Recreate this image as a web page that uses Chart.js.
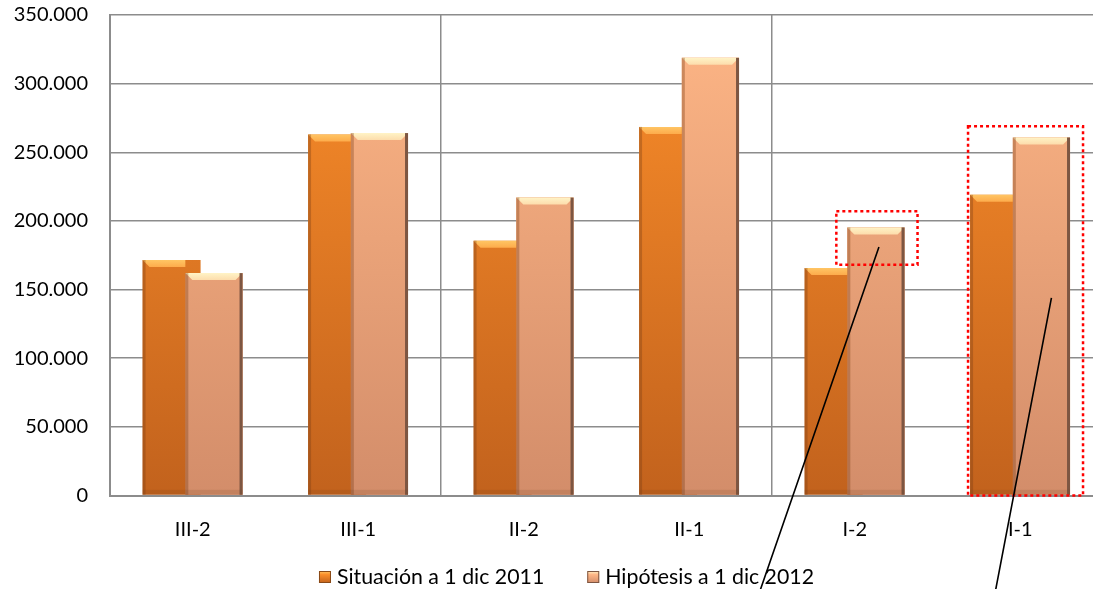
<!DOCTYPE html>
<html>
<head>
<meta charset="utf-8">
<script src="https://cdn.jsdelivr.net/npm/chart.js@4.4.1/dist/chart.umd.min.js"></script>
<style>
  html, body { margin: 0; padding: 0; background: #fff; overflow: hidden; }
  #wrap { width: 1110px; height: 589px; }
</style>
</head>
<body>
<div id="wrap"><canvas id="chart" width="1110" height="589"></canvas></div>
<script>
// --- DATOS ---
const categorias = ['III-2', 'III-1', 'II-2', 'II-1', 'I-2', 'I-1'];
const situacion2011 = [171500, 263000, 185600, 268500, 165700, 219000];
const hipotesis2012 = [162000, 264000, 217000, 318800, 195300, 260800];
const nombresSeries = ['Situación a 1 dic 2011', 'Hipótesis a 1 dic 2012'];
const yTicks = [0, 50000, 100000, 150000, 200000, 250000, 300000, 350000];

const FONT = 'Lato';
const PLOT_BOTTOM = 495.5;

// --- COLORES ---
const tonos = [
  { top: '#fb8e2a', bottom: '#c2621d', edge: '#8a4a18', light: '#ffc564' },
  { top: '#feb686', bottom: '#d38d6a', edge: '#7d5642', light: '#fff3c6' }
];

const gradiente = (i) => (context) => {
  const chart = context.chart;
  const area = chart.chartArea;
  if (!area) return tonos[i].top;
  const g = chart.ctx.createLinearGradient(0, area.top, 0, area.bottom);
  g.addColorStop(0, tonos[i].top);
  g.addColorStop(1, tonos[i].bottom);
  return g;
};

// relieve de las barras (bisel superior y bordes laterales)
const biselPlugin = {
  id: 'bisel',
  afterDatasetsDraw(chart) {
    const ctx = chart.ctx;
    // la serie clara va por encima de la oscura
    chart.getDatasetMeta(1).controller.draw();
    [0, 1].forEach(ds => {
      const meta = chart.getDatasetMeta(ds);
      meta.data.forEach((bar, idx) => {
        const left = bar.x - bar.width / 2;
        let right = bar.x + bar.width / 2;
        if (ds === 0) {
          const otra = chart.getDatasetMeta(1).data[idx];
          right = otra.x - otra.width / 2;
        }
        const top = bar.y, base = bar.base;
        ctx.save();
        // bisel superior
        ctx.save();
        ctx.beginPath();
        ctx.rect(left, top - 1, right - left, 12);
        ctx.clip();
        const gb = ctx.createLinearGradient(0, top, 0, top + 8);
        gb.addColorStop(0, tonos[ds].light);
        gb.addColorStop(1, ds === 1 ? '#fcd9a8' : '#fda848');
        ctx.fillStyle = gb;
        ctx.beginPath();
        ctx.moveTo(left, top);
        ctx.lineTo(left + bar.width, top);
        ctx.lineTo(left + bar.width - 7, top + 7);
        ctx.lineTo(left + 7, top + 7);
        ctx.closePath();
        ctx.fill();
        ctx.restore();
        // borde izquierdo
        ctx.fillStyle = 'rgba(120,60,20,0.35)';
        ctx.fillRect(left, top, 3, base - top);
        // borde derecho
        if (ds === 1) {
          ctx.fillStyle = tonos[ds].edge;
          ctx.fillRect(left + bar.width - 3, top, 3, base - top);
        }
        // sombra inferior
        ctx.fillStyle = 'rgba(110,60,30,0.15)';
        ctx.fillRect(left, base - 5, right - left, 5);
        ctx.restore();
      });
    });
  }
};

// leyenda inferior
const leyenda = {
  id: 'leyenda',
  afterDraw(chart) {
    const ctx = chart.ctx;
    ctx.save();
    ctx.font = `21.3px ${FONT}`;
    ctx.textBaseline = 'middle';
    const box = 12, gapTexto = 6, gapItems = 43;
    const anchos = nombresSeries.map(t => ctx.measureText(t).width);
    const total = anchos.reduce((a, w) => a + box + gapTexto + w, 0) + gapItems;
    let x = 566.5 - total / 2;
    const yc = 577;
    nombresSeries.forEach((t, i) => {
      const g = ctx.createLinearGradient(0, yc - 6, 0, yc + 6);
      g.addColorStop(0, tonos[i].light);
      g.addColorStop(0.3, tonos[i].top);
      g.addColorStop(1, tonos[i].bottom);
      ctx.fillStyle = g;
      ctx.fillRect(x, yc - 6, box, box);
      ctx.strokeStyle = tonos[i].edge;
      ctx.lineWidth = 1;
      ctx.strokeRect(x + 0.5, yc - 5.5, box - 1, box - 1);
      ctx.fillStyle = '#000';
      ctx.fillText(t, x + box + gapTexto, yc);
      x += box + gapTexto + anchos[i] + gapItems;
    });
    ctx.restore();
  }
};

// marcas rojas y líneas negras
const anotaciones = {
  id: 'anotaciones',
  afterDraw(chart) {
    const ctx = chart.ctx;
    const y = chart.scales.y;
    const oscura = chart.getDatasetMeta(0).data;
    const clara = chart.getDatasetMeta(1).data;
    const b4 = clara[4], d5 = oscura[5], b5 = clara[5];
    ctx.save();
    ctx.strokeStyle = '#ff0000';
    ctx.lineWidth = 2.5;
    ctx.setLineDash([3, 3]);
    // recuadro I-2
    const r1l = b4.x - b4.width / 2 - 11, r1r = b4.x + b4.width / 2 + 13;
    const r1t = y.getPixelForValue(207000), r1b = y.getPixelForValue(168000);
    ctx.strokeRect(r1l, r1t, r1r - r1l, r1b - r1t);
    // recuadro I-1
    const r2l = d5.x - d5.width / 2 - 2, r2r = b5.x + b5.width / 2 + 13;
    const r2t = y.getPixelForValue(269000), r2b = y.getPixelForValue(0);
    ctx.strokeRect(r2l, r2t, r2r - r2l, r2b - r2t);
    ctx.setLineDash([]);
    ctx.strokeStyle = '#000';
    ctx.lineWidth = 1.6;
    ctx.beginPath();
    ctx.moveTo(b4.x + 3, y.getPixelForValue(181000));
    ctx.lineTo(b4.x - 116, chart.height + 2);
    ctx.moveTo(b5.x + 10, y.getPixelForValue(144000));
    ctx.lineTo(b5.x - 46, chart.height + 2);
    ctx.stroke();
    ctx.restore();
  }
};

const chart = new Chart(document.getElementById('chart'), {
  type: 'bar',
  data: {
    labels: categorias,
    datasets: [
      {
        label: nombresSeries[0],
        data: situacion2011,
        backgroundColor: gradiente(0),
        borderWidth: 0,
        barPercentage: 1.37,
        categoryPercentage: 0.512
      },
      {
        label: nombresSeries[1],
        data: hipotesis2012,
        backgroundColor: gradiente(1),
        borderWidth: 0,
        barPercentage: 1.35,
        categoryPercentage: 0.512
      }
    ]
  },
  options: {
    responsive: false,
    animation: false,
    layout: { padding: { top: 15, right: 7, left: 0, bottom: 0 } },
    plugins: {
      tooltip: { enabled: false },
      legend: { display: false }
    },
    scales: {
      x: {
        grid: {
          offset: true,
          drawTicks: false,
          color: (c) => (c.index === 2 || c.index === 4) ? '#8c8c8c' : 'rgba(0,0,0,0)',
          lineWidth: 1.5
        },
        border: { color: '#8c8c8c', width: 2 },
        ticks: { color: '#000', font: { family: FONT, size: 20 }, padding: 22 },
        afterFit: (scale) => {
          scale.height = scale.chart.height - PLOT_BOTTOM;
          scale.paddingLeft = 0;
          scale.paddingRight = 0;
        }
      },
      y: {
        min: 0,
        max: 350000,
        afterBuildTicks: (scale) => { scale.ticks = yTicks.map(v => ({ value: v })); },
        grid: { color: '#8c8c8c', lineWidth: 1.5, drawTicks: false },
        border: { color: '#8c8c8c', width: 2 },
        ticks: {
          color: '#000',
          font: { family: FONT, size: 20 },
          padding: 22,
          callback: (v) => v.toLocaleString('de-DE')
        },
        afterFit: (scale) => {
          scale.width = 110;
          scale.paddingTop = 0;
          scale.paddingBottom = 0;
        }
      }
    }
  },
  plugins: [biselPlugin, leyenda, anotaciones]
});
</script>
</body>
</html>
